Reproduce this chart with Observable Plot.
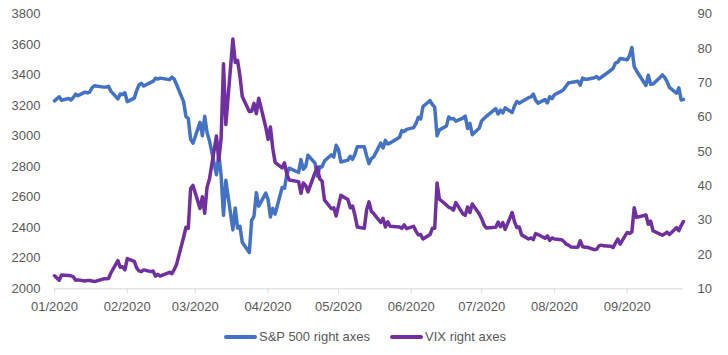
<!DOCTYPE html>
<html><head><meta charset="utf-8">
<script src="https://cdn.jsdelivr.net/npm/d3@7"></script>
<script src="https://cdn.jsdelivr.net/npm/@observablehq/plot@0.6"></script>
<style>
body{margin:0;background:#fff;font-family:"Liberation Sans",Arial,sans-serif;}
#chart{width:728px;height:355px;overflow:hidden;}
.legend{display:flex;justify-content:center;align-items:center;height:37px;margin-top:0;font-size:13px;color:#595959;padding-left:2px;}
.item{display:flex;align-items:center;margin:0 10px;}
.sw{width:33px;height:4px;border-radius:2px;margin-right:2px;}
</style></head><body>
<div id="chart"></div>
<script>
const dates = ["2019-12-31","2020-01-02","2020-01-03","2020-01-06","2020-01-07","2020-01-08","2020-01-09","2020-01-10","2020-01-13","2020-01-14","2020-01-15","2020-01-16","2020-01-17","2020-01-21","2020-01-22","2020-01-23","2020-01-24","2020-01-27","2020-01-28","2020-01-29","2020-01-30","2020-01-31",
"2020-02-03","2020-02-04","2020-02-05","2020-02-06","2020-02-07","2020-02-10","2020-02-11","2020-02-12","2020-02-13","2020-02-14","2020-02-18","2020-02-19","2020-02-20","2020-02-21","2020-02-24","2020-02-25","2020-02-26","2020-02-27","2020-02-28",
"2020-03-02","2020-03-03","2020-03-04","2020-03-05","2020-03-06","2020-03-09","2020-03-10","2020-03-11","2020-03-12","2020-03-13","2020-03-16","2020-03-17","2020-03-18","2020-03-19","2020-03-20","2020-03-23","2020-03-24","2020-03-25","2020-03-26","2020-03-27","2020-03-30","2020-03-31",
"2020-04-01","2020-04-02","2020-04-03","2020-04-06","2020-04-07","2020-04-08","2020-04-09","2020-04-13","2020-04-14","2020-04-15","2020-04-16","2020-04-17","2020-04-20","2020-04-21","2020-04-22","2020-04-23","2020-04-24","2020-04-27","2020-04-28","2020-04-29","2020-04-30",
"2020-05-01","2020-05-04","2020-05-05","2020-05-06","2020-05-07","2020-05-08","2020-05-11","2020-05-12","2020-05-13","2020-05-14","2020-05-15","2020-05-18","2020-05-19","2020-05-20","2020-05-21","2020-05-22","2020-05-26","2020-05-27","2020-05-28","2020-05-29",
"2020-06-01","2020-06-02","2020-06-03","2020-06-04","2020-06-05","2020-06-08","2020-06-09","2020-06-10","2020-06-11","2020-06-12","2020-06-15","2020-06-16","2020-06-17","2020-06-18","2020-06-19","2020-06-22","2020-06-23","2020-06-24","2020-06-25","2020-06-26","2020-06-29","2020-06-30",
"2020-07-01","2020-07-02","2020-07-06","2020-07-07","2020-07-08","2020-07-09","2020-07-10","2020-07-13","2020-07-14","2020-07-15","2020-07-16","2020-07-17","2020-07-20","2020-07-21","2020-07-22","2020-07-23","2020-07-24","2020-07-27","2020-07-28","2020-07-29","2020-07-30","2020-07-31",
"2020-08-03","2020-08-04","2020-08-05","2020-08-06","2020-08-07","2020-08-10","2020-08-11","2020-08-12","2020-08-13","2020-08-14","2020-08-17","2020-08-18","2020-08-19","2020-08-20","2020-08-21","2020-08-24","2020-08-25","2020-08-26","2020-08-27","2020-08-28","2020-08-31",
"2020-09-01","2020-09-02","2020-09-03","2020-09-04","2020-09-08","2020-09-09","2020-09-10","2020-09-11","2020-09-14","2020-09-15","2020-09-16","2020-09-17","2020-09-18","2020-09-21","2020-09-22","2020-09-23","2020-09-24"];

const spx = [3231,3258,3235,3246,3237,3253,3275,3265,3288,3283,3289,3317,3330,3321,3322,3326,3295,3244,3276,3273,3284,3226,
3249,3298,3335,3346,3328,3352,3358,3379,3374,3380,3370,3386,3373,3338,3226,3128,3116,2979,2954,
3090,3003,3130,3024,2972,2747,2882,2741,2481,2711,2386,2529,2398,2409,2305,2237,2447,2476,2630,2541,2627,2585,
2471,2527,2489,2664,2659,2750,2790,2762,2846,2783,2800,2875,2823,2737,2799,2798,2837,2878,2863,2940,2912,
2831,2843,2868,2848,2881,2930,2930,2870,2820,2853,2864,2954,2923,2972,2949,2955,2992,3036,3030,3044,
3056,3081,3123,3112,3194,3232,3207,3190,3002,3041,3067,3125,3113,3115,3098,3118,3131,3050,3084,3009,3053,3100,
3116,3130,3180,3145,3170,3152,3185,3155,3198,3227,3216,3225,3252,3257,3276,3236,3216,3239,3218,3258,3246,3271,
3295,3307,3328,3349,3351,3360,3334,3380,3373,3373,3382,3390,3375,3386,3397,3431,3444,3479,3485,3508,3500,
3527,3581,3455,3427,3332,3399,3339,3341,3384,3401,3385,3357,3319,3281,3316,3237,3240];

const vix = [13.8,12.5,14.0,13.9,13.8,13.5,12.5,12.6,12.3,12.4,12.4,12.3,12.1,12.9,12.9,13.0,14.6,18.2,16.3,16.4,15.5,18.8,
18.0,16.1,15.2,15.0,15.5,15.0,15.2,13.7,14.2,13.7,14.8,14.4,15.6,17.1,25.0,27.9,27.6,39.2,40.1,
33.4,36.8,32.0,39.6,41.9,54.5,47.3,53.9,75.5,57.8,82.7,75.9,76.5,72.0,66.0,61.6,61.7,64.0,61.0,65.5,57.1,53.5,
57.1,50.9,46.8,45.2,46.7,43.4,41.7,41.2,37.8,40.8,40.1,38.2,43.8,45.4,42.0,41.4,35.9,33.3,33.6,31.2,34.2,
37.2,36.0,33.6,34.1,31.4,28.0,27.6,33.0,35.3,32.6,31.9,29.3,30.5,28.0,29.5,28.2,28.0,27.6,28.6,27.5,
28.2,26.8,25.7,25.8,24.5,25.8,27.6,27.6,40.8,36.1,34.4,33.7,33.5,32.9,35.1,31.8,31.4,33.8,32.2,34.7,31.8,30.4,
28.6,27.7,27.9,29.4,28.1,29.3,27.3,32.2,29.5,27.8,28.0,25.7,24.5,24.8,24.3,26.1,25.8,24.7,25.4,24.1,24.8,24.5,
24.3,23.8,23.0,22.7,22.2,22.1,24.0,22.3,22.1,22.1,21.4,21.5,22.5,22.7,22.5,22.4,22.0,23.3,24.5,23.0,26.4,
26.1,26.6,33.6,30.8,31.5,28.8,29.7,26.9,25.9,25.6,26.0,26.5,25.8,27.8,26.9,28.4,29.6];

const leftTicks = [2000,2200,2400,2600,2800,3000,3200,3400,3600,3800];
const rightTicks = [10,20,30,40,50,60,70,80,90];
const monthTickDates = ["2019-12-31","2020-01-31","2020-02-29","2020-03-31","2020-04-30","2020-05-31","2020-06-30","2020-07-31","2020-08-31"];
const monthTickLabels = ["01/2020","02/2020","03/2020","04/2020","05/2020","06/2020","07/2020","08/2020","09/2020"];
const seriesNames = ["S&P 500 right axes","VIX right axes"];
const seriesColors = ["#4472C4","#7030A0"];

const parse = d3.utcParse("%Y-%m-%d");
const rows = dates.map((d, i) => ({date: parse(d), spx: spx[i], vix: vix[i]}));
// map VIX (10–90) onto the left scale (2000–3800)
const toLeft = v => 2000 + (v - 10) * 22.5;
const fromLeft = y => String(Math.round((y - 2000) / 22.5 + 10));
const tickDates = monthTickDates.map(parse);
const labelOf = new Map(tickDates.map((d, i) => [+d, monthTickLabels[i]]));

const plot = Plot.plot({
  width: 728,
  height: 318,
  marginLeft: 54,
  marginRight: 45,
  marginTop: 13.5,
  marginBottom: 29.7,
  style: {fontFamily: "'Liberation Sans', Arial, sans-serif", fontSize: "13px", color: "#595959", background: "#fff"},
  x: {type: "utc", domain: [parse("2019-12-31"), parse("2020-09-24")]},
  y: {domain: [2000, 3800]},
  marks: [
    Plot.ruleY([2000], {stroke: "#d9d9d9", strokeWidth: 1}),
    Plot.axisX(tickDates, {anchor: "bottom", tickSize: 5, tickPadding: 8, stroke: "#d9d9d9", fill: "#595959", tickFormat: d => labelOf.get(+d), label: null, fontSize: 13}),
    Plot.axisY(leftTicks, {anchor: "left", tickSize: 0, tickPadding: 14, fill: "#595959", label: null, fontSize: 13, tickFormat: d => String(d)}),
    Plot.axisY(rightTicks.map(toLeft), {anchor: "right", tickSize: 0, tickPadding: 14, fill: "#595959", label: null, fontSize: 13, tickFormat: fromLeft}),
    Plot.line(rows, {x: "date", y: "spx", stroke: seriesColors[0], strokeWidth: 3.5, strokeLinejoin: "round", strokeLinecap: "round"}),
    Plot.line(rows, {x: "date", y: d => toLeft(d.vix), stroke: seriesColors[1], strokeWidth: 3.5, strokeLinejoin: "round", strokeLinecap: "round"})
  ]
});
const chart = document.getElementById("chart");
chart.appendChild(plot);
const legend = document.createElement("div");
legend.className = "legend";
seriesNames.forEach((name, i) => {
  const item = document.createElement("div");
  item.className = "item";
  const sw = document.createElement("span");
  sw.className = "sw";
  sw.style.background = seriesColors[i];
  const t = document.createElement("span");
  t.textContent = name;
  item.appendChild(sw);
  item.appendChild(t);
  legend.appendChild(item);
});
chart.appendChild(legend);
</script>
</body></html>
